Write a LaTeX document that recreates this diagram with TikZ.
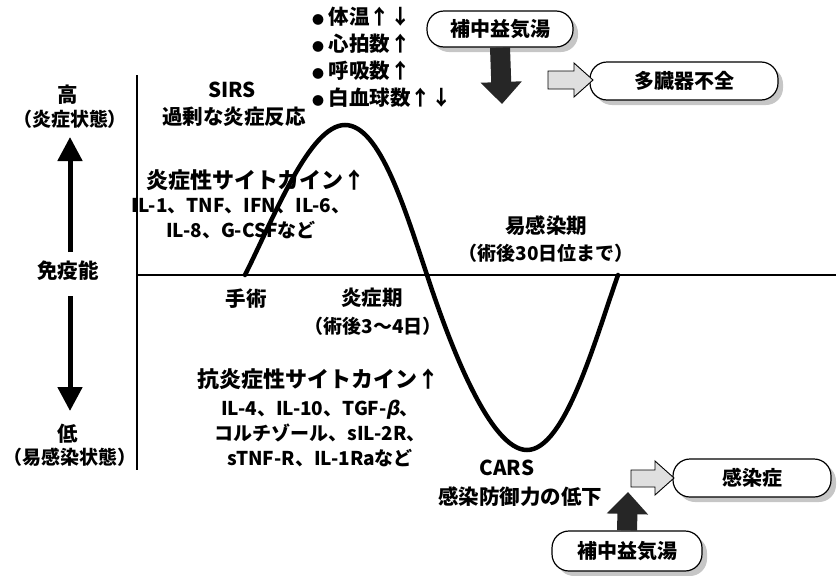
\documentclass[tikz,border=0pt]{standalone}
\usepackage{fontspec}
\setmainfont{Noto Sans CJK JP}
\newfontfamily\slfont{Noto Sans CJK JP}[FakeSlant=0.2]
\usetikzlibrary{arrows.meta,shadows}
\newcommand{\mybul}{{\fontsize{12}{12}\selectfont ●}}
\begin{document}
\begin{tikzpicture}[x=1pt,y=-1pt,
  lbl/.style={font=\bfseries\fontsize{20.5}{26}\selectfont, inner sep=0pt, align=center},
  sml/.style={font=\bfseries\fontsize{19}{23}\selectfont, inner sep=0pt, align=center},
  big/.style={font=\bfseries\fontsize{22}{25}\selectfont, inner sep=0pt, align=center},
  lat/.style={font=\bfseries\fontsize{19}{25}\selectfont, inner sep=0pt, align=center},
  pbox/.style={draw=black, line width=1.2pt, fill=white, rounded corners=17pt, inner sep=0pt,
     minimum height=36pt, font=\bfseries\fontsize{20}{22}\selectfont,
     drop shadow={shadow xshift=5pt, shadow yshift=-5pt, fill=gray!45, opacity=1}},
  darrow/.style={line width=20pt, draw=black!85, -{Triangle[width=40pt,length=22pt]}},
  oarrow/.style={draw=black, line width=0.9pt, fill=gray!25, line join=miter},
  axisarrow/.style={line width=5pt, -{Triangle[width=24pt,length=24pt]}}
]
\useasboundingbox (0,0) rectangle (839,576);

% axes
\coordinate (vtop) at (137,75);
\coordinate (vbot) at (137,470);
\coordinate (horg) at (137,275);
\coordinate (hend) at (836,275);
\draw[line width=1.6pt] (vtop) -- (vbot);
\draw[line width=1.4pt] (horg) -- (hend);

% left labels
\node[lbl] (hi) at (68,95) {高};
\node[sml] (hi2) at (70,119) {（炎症状態）};
\node[lbl] (mid) at (68,271) {免疫能};
\node[lbl] (lo) at (68,434) {低};
\node[sml] (lo2) at (70,457) {（易感染状態）};
\coordinate (upbase) at (70,252);
\coordinate (uptip) at (70,137);
\coordinate (dnbase) at (70,296);
\coordinate (dntip) at (70,411);
\draw[axisarrow] (upbase) -- (uptip);
\draw[axisarrow] (dnbase) -- (dntip);

% curve
\coordinate (c0) at (245,275);
\coordinate (cpk) at (345,125);
\coordinate (c1) at (427,275);
\coordinate (ctr) at (527,450);
\coordinate (c2) at (618,275);
\draw[line width=4.5pt, line cap=round]
  (c0) .. controls (275,215) and (310,125) .. (cpk)
       .. controls (380,125) and (405,210) .. (c1)
       .. controls (450,345) and (490,450) .. (ctr)
       .. controls (565,450) and (595,340) .. (c2);

% upper texts
\node[lbl] (sirs) at (232,90) {SIRS};
\node[lbl] (sirs2) at (234,117) {過剰な炎症反応};
\node[big] (cyt) at (256,180) {炎症性サイトカイン↑};
\node[lat] (cyt2) at (241,219) {IL-1、TNF、IFN、IL-6、\\IL-8、G-CSFなど};

% bullets
\node[lbl, anchor=west] (b1) at (312,17) {\mybul\ 体温↑↓};
\node[lbl, anchor=west] (b2) at (312,44) {\mybul\ 心拍数↑};
\node[lbl, anchor=west] (b3) at (312,71) {\mybul\ 呼吸数↑};
\node[lbl, anchor=west] (b4) at (312,98) {\mybul\ 白血球数↑↓};

% periods
\node[lbl] (ekan) at (546,226) {易感染期};
\node[sml] (ekan2) at (546,253) {（術後30日位まで）};
\node[lbl] (shu) at (246,299) {手術};
\node[lbl] (ensho) at (372,298) {炎症期};
\node[sml] (ensho2) at (373,326) {（術後3～4日）};

% lower texts
\node[big] (acyt) at (318,379) {抗炎症性サイトカイン↑};
\node[lat] (acyt2) at (320,433) {IL-4、IL-10、TGF-{\slfont\bfseries β}、\\コルチゾール、sIL-2R、\\sTNF-R、IL-1Raなど};
\node[lbl] (cars) at (507,468) {CARS};
\node[lbl] (cars2) at (520,497) {感染防御力の低下};

% top kampo
\node[pbox, minimum width=146pt] (hz1) at (500,29) {補中益気湯};
\coordinate (hz1tip) at (502,104);
\draw[darrow] (hz1.south) -- (hz1tip);
\node[pbox, minimum width=188pt, minimum height=38pt] (mof) at (684,81) {多臓器不全};
\draw[oarrow] (548,71) -- (574,71) -- (574,63) -- (593,80) -- (574,97) -- (574,89) -- (548,89) -- cycle;

% bottom kampo
\node[pbox, minimum width=150pt, minimum height=40pt] (hz2) at (627,551) {補中益気湯};
\coordinate (hz2tip) at (628,492);
\draw[darrow] (hz2.north) -- (hz2tip);
\node[pbox, minimum width=158pt, minimum height=38pt] (inf) at (752,478) {感染症};
\draw[oarrow] (631,470) -- (655,470) -- (655,461) -- (674,478) -- (655,495) -- (655,487) -- (631,487) -- cycle;
\end{tikzpicture}
\end{document}
